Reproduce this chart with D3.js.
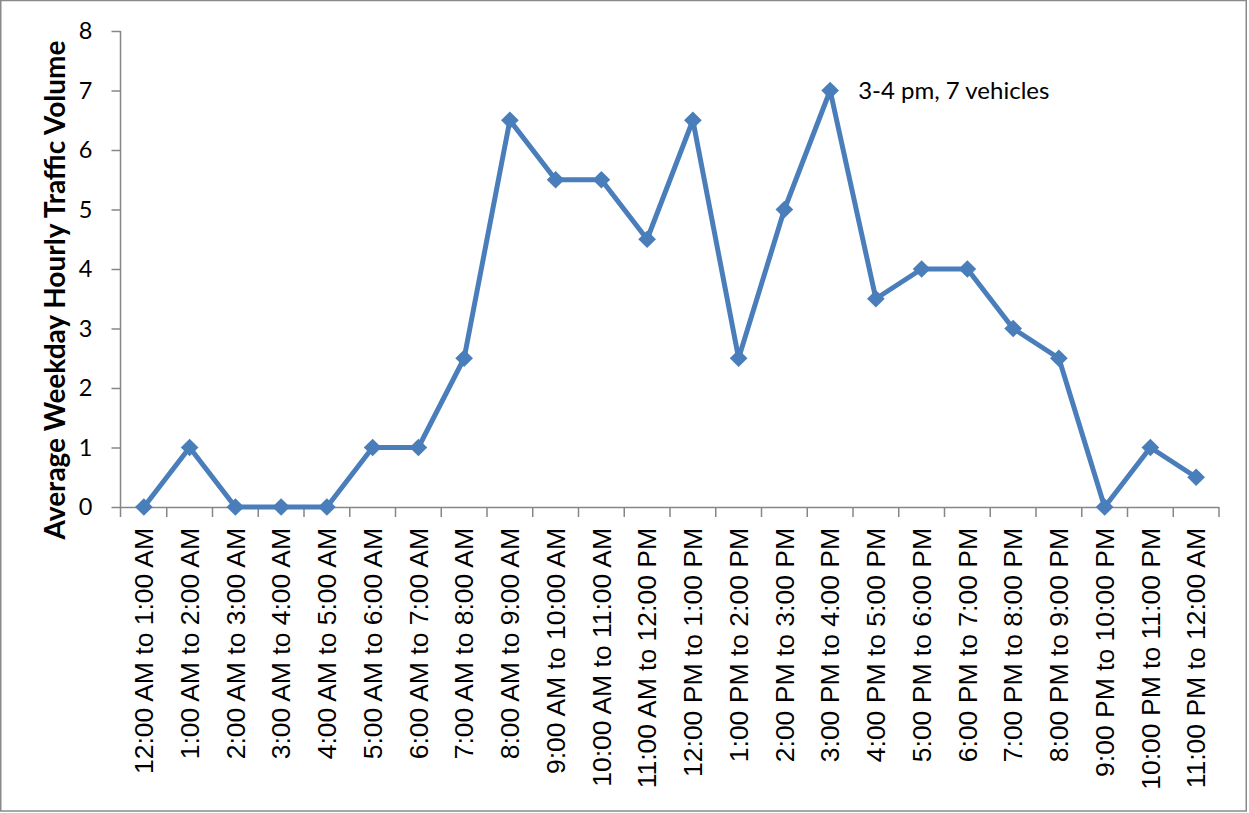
<!DOCTYPE html>
<html><head><meta charset="utf-8">
<script src="https://cdn.jsdelivr.net/npm/d3@7"></script>
<style>html,body{margin:0;padding:0;background:#fff;}svg{display:block;}</style>
</head><body>
<svg id="c" width="1249" height="813"></svg>
<script>
const categories = ["12:00 AM to 1:00 AM","1:00 AM to 2:00 AM","2:00 AM to 3:00 AM","3:00 AM to 4:00 AM","4:00 AM to 5:00 AM","5:00 AM to 6:00 AM","6:00 AM to 7:00 AM","7:00 AM to 8:00 AM","8:00 AM to 9:00 AM","9:00 AM to 10:00 AM","10:00 AM to 11:00 AM","11:00 AM to 12:00 PM","12:00 PM to 1:00 PM","1:00 PM to 2:00 PM","2:00 PM to 3:00 PM","3:00 PM to 4:00 PM","4:00 PM to 5:00 PM","5:00 PM to 6:00 PM","6:00 PM to 7:00 PM","7:00 PM to 8:00 PM","8:00 PM to 9:00 PM","9:00 PM to 10:00 PM","10:00 PM to 11:00 PM","11:00 PM to 12:00 AM"];
const values = [0,1,0,0,0,1,1,2.5,6.5,5.5,5.5,4.5,6.5,2.5,5,7,3.5,4,4,3,2.5,0,1,0.5];
const yTicks = [0,1,2,3,4,5,6,7,8];
const yTitle = "Average Weekday Hourly Traffic Volume";
const annotation = {index: 15, text: "3-4 pm, 7 vehicles"};

const svg = d3.select("#c");
const L = 121, R = 1219, T = 31, B = 507;
const x = d3.scaleBand().domain(categories).range([L, R]).padding(0);
const y = d3.scaleLinear().domain([0, 8]).range([B, T]);
const axisColor = "#868686";

// outer border
svg.append("rect").attr("x",0.75).attr("y",0.5).attr("width",1245.5).attr("height",810.5)
  .attr("fill","none").attr("stroke","#8a8a8a").attr("stroke-width",1.5);

// y axis
const yAxis = svg.append("g").attr("transform",`translate(${L - 0.5},0)`)
  .call(d3.axisLeft(y).tickValues(yTicks).tickSize(9).tickPadding(19).tickFormat(d3.format("d")));
yAxis.select(".domain").attr("stroke",axisColor).attr("stroke-width",1.5).attr("d",`M-0,${T}V${B+10}`);
yAxis.selectAll(".tick line").attr("stroke",axisColor).attr("stroke-width",1.5);
yAxis.selectAll(".tick text").attr("font-family","Lato, 'Open Sans', sans-serif").attr("font-size",23.5).attr("fill","#000");

// x axis
const xg = svg.append("g");
xg.append("line").attr("x1",L).attr("x2",R).attr("y1",B+0.5).attr("y2",B+0.5)
  .attr("stroke",axisColor).attr("stroke-width",1.5);
const bounds = categories.map(c => x(c)).concat([x(categories[categories.length-1]) + x.bandwidth()]);
xg.selectAll("line.tk").data(bounds.slice(1)).join("line").attr("class","tk")
  .attr("x1",d=>d).attr("x2",d=>d).attr("y1",B).attr("y2",B+10)
  .attr("stroke",axisColor).attr("stroke-width",1.5);
xg.selectAll("text").data(categories).join("text")
  .attr("transform",d=>`translate(${x(d)+x.bandwidth()/2},${B+21}) rotate(-90)`)
  .attr("text-anchor","end").attr("dy","0.35em")
  .attr("font-family","'Liberation Sans', Arial, sans-serif").attr("font-size",26.5)
  .attr("fill","#000").text(d=>d);

// y title
svg.append("text").attr("transform",`translate(65,290) rotate(-90)`)
  .attr("text-anchor","middle").attr("font-family","Lato, 'Open Sans', sans-serif")
  .attr("font-weight","bold").attr("font-size",28).attr("fill","#000").text(yTitle);

// line
const color = "#4a7ebb";
const cx = d => x(d) + x.bandwidth()/2;
svg.append("path").datum(values)
  .attr("d", d3.line().x((d,i)=>cx(categories[i])).y(d=>y(d)))
  .attr("fill","none").attr("stroke",color).attr("stroke-width",5).attr("stroke-linejoin","round");
svg.selectAll("path.m").data(values).join("path").attr("class","m")
  .attr("d", d3.symbol().type(d3.symbolDiamond2).size(200))
  .attr("transform",(d,i)=>`translate(${cx(categories[i])},${y(d)})`)
  .attr("fill",color);

// annotation
svg.append("text").attr("x", cx(categories[annotation.index]) + 28).attr("y", y(values[annotation.index]))
  .attr("dy","0.35em").attr("font-family","Lato, 'Open Sans', sans-serif").attr("font-size",24)
  .attr("fill","#000").text(annotation.text);
</script>
</body></html>
